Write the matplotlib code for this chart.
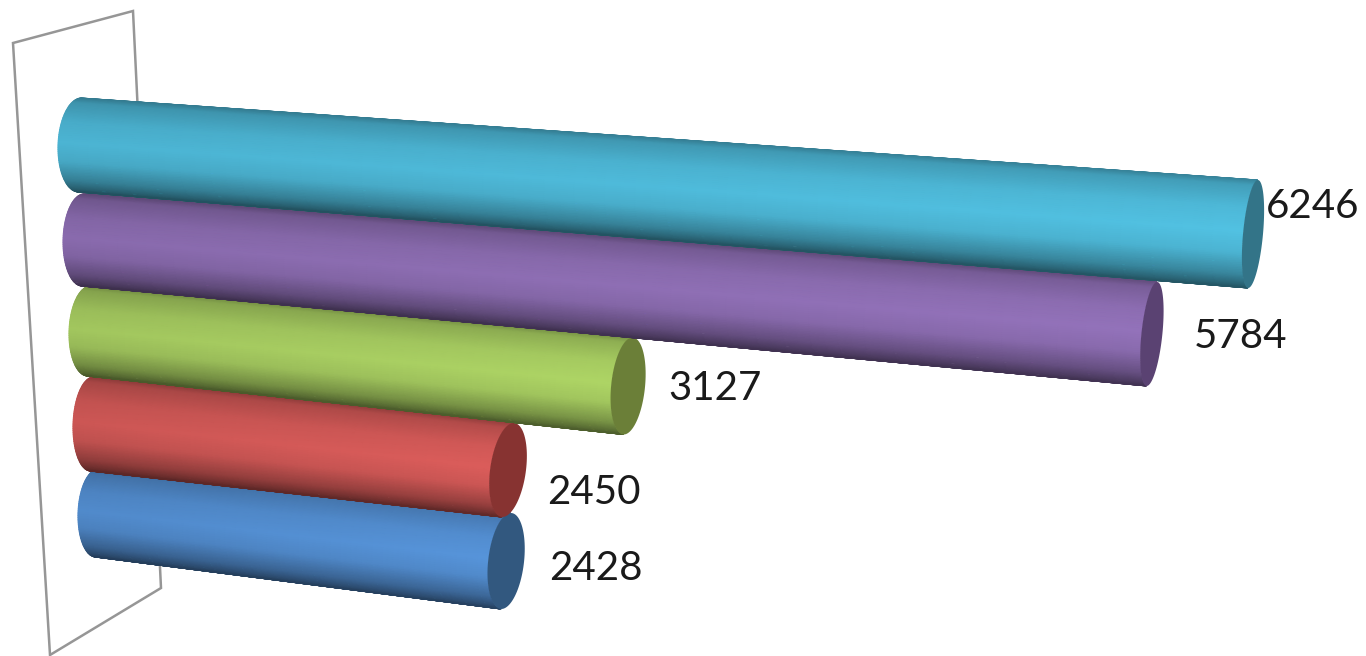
import numpy as np
from matplotlib import pyplot as plt

plt.rc('font', family='Lato')

# values, bottom bar first (also the drawing order)
values = [2428, 2450, 3127, 5784, 6246]

body_colors = ['#5490d4', '#d55a58', '#a9cf62', '#8f6fb5', '#4fbcdc']
cap_colors = ['#32587f', '#873331', '#6b7f38', '#5a4272', '#337488']

# layout in image pixels, one entry per bar
start_x = [97, 92, 89, 83, 80]
start_y = [513, 424, 331, 240, 145]
x_per_unit = [.1685, .1698, .1724, .1848, .1878]
y_per_unit = [.01977, .01878, .01759, .01625, .01425]
half_h = [(44, 48), (47, 47), (45, 48.5), (46, 52), (47, 54)]
half_w = [(19, 18), (19, 18), (20, 17), (20, 10.5), (22, 10)]
tilt = [(.03, .10), (.03, .12), (.03, .09), (.02, .10), (.03, .09)]
label_x = [549, 547, 668, 1194, 1266]
label_y = [568, 492, 388, 337, 207]

wall_x = [13, 133, 161, 50]
wall_y = [43, 11, 588, 655]

# brightness across the cylinder, top edge to bottom edge
shade_t = [-1, -.9, -.5, -.05, .35, .75, .94, 1]
shade_v = [.68, .82, .95, 1, .93, .7, .52, .45]


def to_rgb(c):
    return np.array([int(c[i:i+2], 16) / 255 for i in (1, 3, 5)])


def draw_cylinder(ax, i):
    end_x = start_x[i] + values[i] * x_per_unit[i]
    end_y = start_y[i] + values[i] * y_per_unit[i]
    u = np.linspace(0, 1, 40)[None, :]
    t = -np.cos(np.linspace(0, np.pi, 80))[:, None]
    h = half_h[i][0] + u * (half_h[i][1] - half_h[i][0])
    w = half_w[i][0] + u * (half_w[i][1] - half_w[i][0])
    k = tilt[i][0] + u * (tilt[i][1] - tilt[i][0])
    cx = start_x[i] + u * (end_x - start_x[i])
    cy = start_y[i] + u * (end_y - start_y[i])
    X = cx - k * t * h - w * np.sqrt(np.clip(1 - t**2, 0, 1))
    Y = cy + t * h
    shade = np.interp(t, shade_t, shade_v) * (.96 + .07 * u)
    C = np.clip(shade[..., None] * to_rgb(body_colors[i]), 0, 1)
    ax.pcolormesh(X, Y, C, shading='gouraud', zorder=2 + i, rasterized=True)

    phi = np.linspace(0, 2 * np.pi, 100)
    ex = end_x + half_w[i][1] * np.cos(phi) - tilt[i][1] * half_h[i][1] * np.sin(phi)
    ey = end_y + half_h[i][1] * np.sin(phi)
    ax.fill(ex, ey, color=cap_colors[i], lw=0, zorder=2 + i + .5)


fig = plt.figure(figsize=(13.66, 6.56), dpi=100)
ax = fig.add_axes([0, 0, 1, 1])
ax.set_xlim(0, 1366)
ax.set_ylim(656, 0)
ax.axis('off')

ax.fill(wall_x, wall_y, facecolor='white', edgecolor='#969696', lw=1.8, zorder=1)

for i in range(len(values)):
    draw_cylinder(ax, i)
    ax.text(label_x[i], label_y[i], str(values[i]), fontsize=29, color='#1a1a1a',
            va='center', ha='left', zorder=10)

fig.savefig('out.png', dpi=100, facecolor='white')
